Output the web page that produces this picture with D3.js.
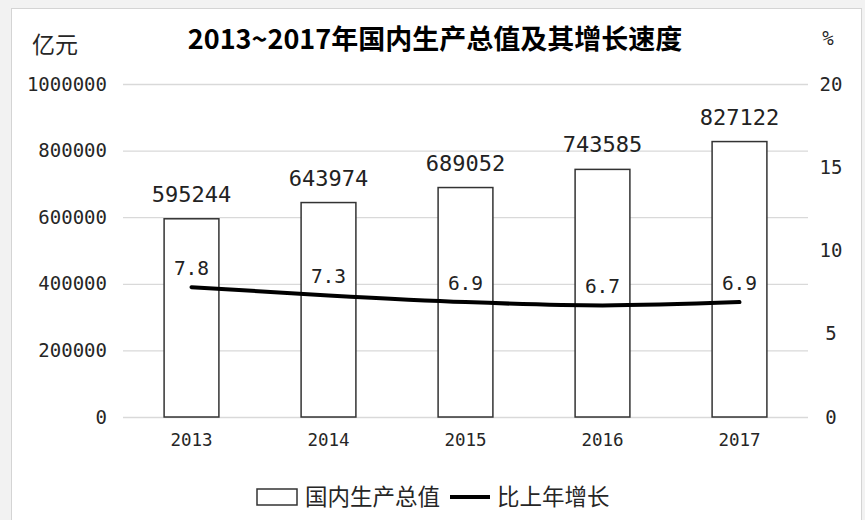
<!DOCTYPE html>
<html>
<head>
<meta charset="utf-8">
<script src="https://cdn.jsdelivr.net/npm/d3@7"></script>
<style>
  html, body { margin: 0; padding: 0; background: #f2f2f2; }
  svg { display: block; }
</style>
</head>
<body>
<div id="chart"></div>
<script>
const years = ["2013", "2014", "2015", "2016", "2017"];
const gdp = [595244, 643974, 689052, 743585, 827122];
const growth = [7.8, 7.3, 6.9, 6.7, 6.9];
const leftTicks = [0, 200000, 400000, 600000, 800000, 1000000];
const rightTicks = [0, 5, 10, 15, 20];

const title = "2013~2017年国内生产总值及其增长速度";
const leftUnit = "亿元";
const rightUnit = "%";
const barName = "国内生产总值";
const lineName = "比上年增长";

const width = 865, height = 520;
const plot = { left: 123, right: 808, top: 84, bottom: 417 };
const numFont = "'DejaVu Sans Mono', monospace";
const cjkFont = "'Noto Sans CJK SC', sans-serif";

const svg = d3.select("#chart")
  .append("svg")
  .attr("width", width)
  .attr("height", height);

// white chart area with a thin grey frame
svg.append("rect")
  .attr("x", 11.5).attr("y", 8.5)
  .attr("width", 850).attr("height", 520)
  .attr("fill", "#fff")
  .attr("stroke", "#d4d4d4");

const x = d3.scaleBand()
  .domain(years)
  .range([plot.left, plot.right])
  .paddingInner(0.6)
  .paddingOuter(0.3);

const y = d3.scaleLinear()
  .domain([0, 1000000])
  .range([plot.bottom, plot.top]);

const y2 = d3.scaleLinear()
  .domain([0, 20])
  .range([plot.bottom, plot.top]);

// left axis + gridlines
const gLeft = svg.append("g")
  .attr("transform", `translate(${plot.left},0)`)
  .call(d3.axisLeft(y).tickValues(leftTicks).tickSize(-(plot.right - plot.left)).tickPadding(16).tickFormat(d3.format("d")));
gLeft.select(".domain").remove();
gLeft.selectAll(".tick line").attr("stroke", "#d9d9d9").attr("stroke-width", 1.3);
gLeft.selectAll(".tick text")
  .attr("font-family", numFont).attr("font-size", 19).attr("fill", "#262626");

// right axis
const gRight = svg.append("g")
  .attr("transform", `translate(${plot.right},0)`)
  .call(d3.axisRight(y2).tickValues(rightTicks).tickSize(0));
gRight.select(".domain").remove();
gRight.selectAll(".tick text")
  .attr("x", 23)
  .attr("text-anchor", "middle")
  .attr("font-family", numFont).attr("font-size", 19).attr("fill", "#262626");

// bottom axis
const gBottom = svg.append("g")
  .attr("transform", `translate(0,${plot.bottom})`)
  .call(d3.axisBottom(x).tickSize(0).tickPadding(17));
gBottom.select(".domain").remove();
gBottom.selectAll(".tick text")
  .attr("font-family", numFont).attr("font-size", 17.5).attr("fill", "#262626");

// bars
const data = years.map((yr, i) => ({ year: yr, gdp: gdp[i], growth: growth[i] }));

svg.append("g")
  .selectAll("rect")
  .data(data)
  .join("rect")
  .attr("x", d => x(d.year))
  .attr("y", d => y(d.gdp))
  .attr("width", x.bandwidth())
  .attr("height", d => y(0) - y(d.gdp))
  .attr("fill", "#fff")
  .attr("stroke", "#333")
  .attr("stroke-width", 1.5);

svg.append("g")
  .selectAll("text")
  .data(data)
  .join("text")
  .attr("x", d => x(d.year) + x.bandwidth() / 2)
  .attr("y", d => y(d.gdp) - 17)
  .attr("text-anchor", "middle")
  .attr("font-family", numFont)
  .attr("font-size", 22)
  .attr("fill", "#222")
  .text(d => d.gdp);

// growth line
const line = d3.line()
  .x(d => x(d.year) + x.bandwidth() / 2)
  .y(d => y2(d.growth))
  .curve(d3.curveMonotoneX);

svg.append("path")
  .datum(data)
  .attr("d", line)
  .attr("fill", "none")
  .attr("stroke", "#000")
  .attr("stroke-width", 4)
  .attr("stroke-linecap", "round");

svg.append("g")
  .selectAll("text")
  .data(data)
  .join("text")
  .attr("x", d => x(d.year) + x.bandwidth() / 2)
  .attr("y", d => y2(d.growth) - 12)
  .attr("text-anchor", "middle")
  .attr("font-family", numFont)
  .attr("font-size", 19.5)
  .attr("fill", "#222")
  .text(d => d.growth.toFixed(1));

// title and units
svg.append("text")
  .attr("x", 435).attr("y", 49)
  .attr("text-anchor", "middle")
  .attr("font-family", cjkFont)
  .attr("font-weight", "bold")
  .attr("font-size", 27)
  .attr("fill", "#000")
  .text(title);

svg.append("text")
  .attr("x", 32).attr("y", 53)
  .attr("font-family", cjkFont)
  .attr("font-size", 23)
  .attr("fill", "#262626")
  .text(leftUnit);

svg.append("text")
  .attr("x", 828).attr("y", 45)
  .attr("text-anchor", "middle")
  .attr("font-family", numFont)
  .attr("font-size", 19)
  .attr("fill", "#262626")
  .text(rightUnit);

// legend
const legend = svg.append("g");
legend.append("rect")
  .attr("x", 257).attr("y", 489)
  .attr("width", 40).attr("height", 16)
  .attr("fill", "#fff")
  .attr("stroke", "#333")
  .attr("stroke-width", 1.5);
legend.append("text")
  .attr("x", 305).attr("y", 505)
  .attr("font-family", cjkFont)
  .attr("font-size", 22.5)
  .attr("fill", "#262626")
  .text(barName);
legend.append("line")
  .attr("x1", 450).attr("x2", 490)
  .attr("y1", 497).attr("y2", 497)
  .attr("stroke", "#000")
  .attr("stroke-width", 4);
legend.append("text")
  .attr("x", 497).attr("y", 505)
  .attr("font-family", cjkFont)
  .attr("font-size", 22.5)
  .attr("fill", "#262626")
  .text(lineName);
</script>
</body>
</html>
